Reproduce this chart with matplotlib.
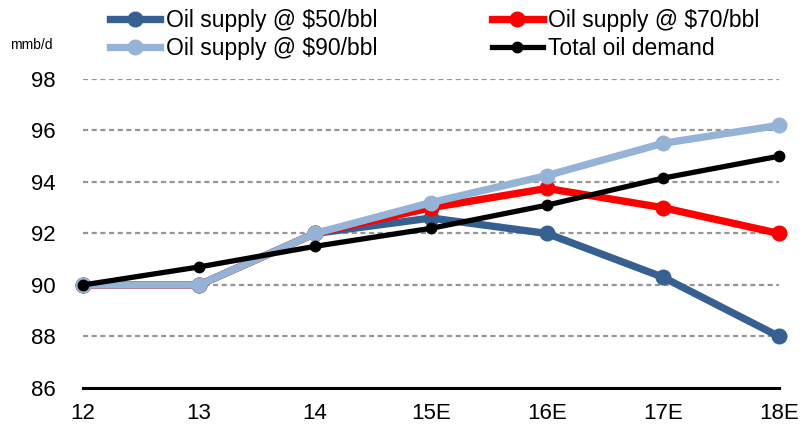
import numpy as np
import matplotlib.pyplot as plt

plt.rcParams['font.family'] = ['Liberation Sans', 'DejaVu Sans']

# data
years = ['12', '13', '14', '15E', '16E', '17E', '18E']
supply_50 = [90.0, 90.0, 92.0, 92.6, 92.0, 90.3, 88.0]
supply_70 = [90.0, 90.0, 92.0, 93.0, 93.75, 93.0, 92.0]
supply_90 = [90.0, 90.0, 92.0, 93.2, 94.25, 95.5, 96.2]
demand = [90.0, 90.7, 91.5, 92.2, 93.1, 94.15, 95.0]

fig = plt.figure(figsize=(8.03, 4.29), dpi=100)
ax = fig.add_axes([0.1034, 0.0956, 0.8667, 0.7204])

x = np.arange(len(years))
ax.plot(x, supply_50, color='#376092', lw=5.3, marker='o', ms=10.5,
        label='Oil supply @ $50/bbl', clip_on=False, zorder=3)
ax.plot(x, supply_70, color='#ff0000', lw=5.3, marker='o', ms=10.5,
        label='Oil supply @ $70/bbl', clip_on=False, zorder=4)
ax.plot(x, supply_90, color='#95b3d7', lw=5.3, marker='o', ms=10.5,
        label='Oil supply @ $90/bbl', clip_on=False, zorder=5)
ax.plot(x, demand, color='black', lw=3.8, marker='o', ms=7.5,
        label='Total oil demand', clip_on=False, zorder=6)

ax.set_xlim(0, len(years) - 1)
ax.set_ylim(86, 98)
ax.set_yticks(np.arange(86, 99, 2))
ax.set_xticks(x)
ax.set_xticklabels(years)
ax.tick_params(axis='both', length=0, labelsize=16)
ax.tick_params(axis='y', pad=20)
ax.tick_params(axis='x', pad=11)

for yv in range(88, 99, 2):
    ax.axhline(yv, color='#969696', lw=1.6, ls=(0, (2.3, 1.6)), zorder=1)

for s in ['top', 'right', 'left']:
    ax.spines[s].set_visible(False)
ax.spines['bottom'].set_linewidth(2.2)
ax.spines['bottom'].set_zorder(2)

fig.text(0.012, 0.895, 'mmb/d', fontsize=10, ha='left', va='center')

handles, labels = ax.get_legend_handles_labels()
order = [0, 2, 1, 3]
fig.legend([handles[i] for i in order], [labels[i] for i in order],
           ncol=2, loc='upper left', bbox_to_anchor=(0.137, 0.978),
           frameon=False, fontsize=16.5, handlelength=2.2,
           columnspacing=5.0, labelspacing=0.2, handletextpad=0.25,
           borderpad=0, borderaxespad=0)

fig.savefig('out.png', dpi=100)
